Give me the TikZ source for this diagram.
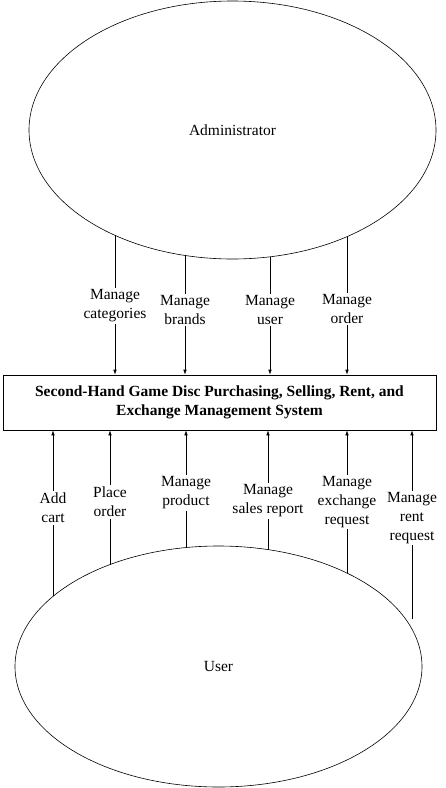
\documentclass[tikz,border=0pt]{standalone}
\usepackage{fontspec}
\setmainfont{Liberation Serif}
\usetikzlibrary{shapes.geometric,arrows.meta}
\begin{document}
\begin{tikzpicture}[x=1pt,y=-1pt,
  ent/.style={ellipse, draw, line width=0.6pt, inner sep=0pt, font=\fontsize{15.5}{19}\selectfont},
  lab/.style={align=center, inner sep=1.5pt, font=\fontsize{15.5}{19}\selectfont},
  flow/.style={line width=0.6pt, -{Latex[length=5pt,width=3.5pt]}},
  seg/.style={line width=0.6pt}]
\useasboundingbox (0,0) rectangle (446,788);
% entities and system
\node[ent, minimum width=407, minimum height=258] (admin) at (232.5,130){Administrator};
\node[ent, minimum width=407, minimum height=241] (usr) at (218.5,666.5){User};
\node[draw, line width=0.6pt, minimum width=433, minimum height=55, align=center, inner sep=0pt,
  font=\bfseries\fontsize{15.5}{19}\selectfont] (sys) at (219.5,402.5){Second-Hand Game Disc Purchasing, Selling, Rent, and\\Exchange Management System};
% administrator flows
\node[lab] (mcat) at (115,306){Manage\\categories};
\node[lab] (mbrand) at (185,310){Manage\\brands};
\node[lab] (muser) at (270,310){Manage\\user};
\node[lab] (morder) at (347,309){Manage\\order};
\coordinate (a1) at (115,235.3);
\coordinate (a2) at (185,255.4);
\coordinate (a3) at (270,256.8);
\coordinate (a4) at (347,236.6);
\draw[seg](a1) -- (mcat);
\draw[flow](mcat) -- (mcat |- sys.north);
\draw[seg](a2) -- (mbrand);
\draw[flow](mbrand) -- (mbrand |- sys.north);
\draw[seg](a3) -- (muser);
\draw[flow](muser) -- (muser |- sys.north);
\draw[seg](a4) -- (morder);
\draw[flow](morder) -- (morder |- sys.north);
% user flows
\node[lab] (acart) at (53,508){Add\\cart};
\node[lab] (porder) at (110,502){Place\\order};
\node[lab] (mprod) at (186,493){Manage\\product};
\node[lab] (msales) at (268,501){Manage\\sales report};
\node[lab] (mexch) at (347,502){Manage\\exchange\\request};
\node[lab] (mrent) at (412,518){Manage\\rent\\request};
\coordinate (u1) at (53,596.4);
\coordinate (u2) at (110,564.6);
\coordinate (u3) at (186,547.5);
\coordinate (u4) at (268,549.6);
\coordinate (u5) at (347,573);
\coordinate (u6) at (412,619);
\draw[seg](u1) -- (acart);
\draw[flow](acart) -- (acart |- sys.south);
\draw[seg](u2) -- (porder);
\draw[flow](porder) -- (porder |- sys.south);
\draw[seg](u3) -- (mprod);
\draw[flow](mprod) -- (mprod |- sys.south);
\draw[seg](u4) -- (msales);
\draw[flow](msales) -- (msales |- sys.south);
\draw[seg](u5) -- (mexch);
\draw[flow](mexch) -- (mexch |- sys.south);
\draw[seg](u6) -- (mrent);
\draw[flow](mrent) -- (mrent |- sys.south);
\end{tikzpicture}
\end{document}
